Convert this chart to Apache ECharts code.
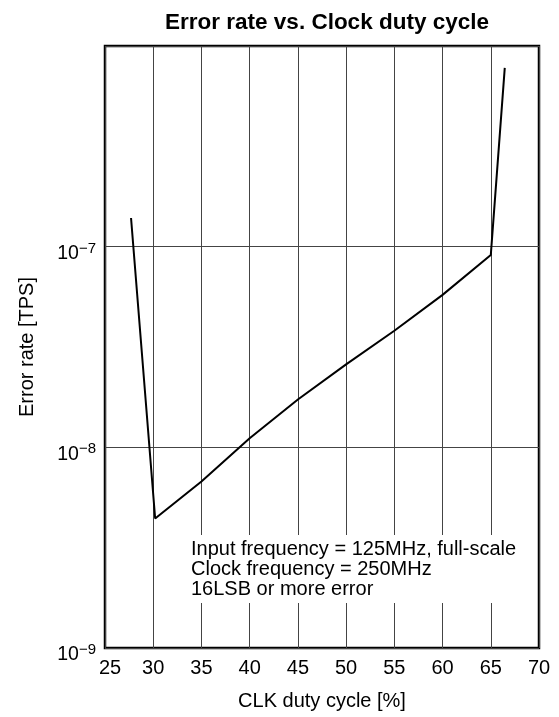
<!DOCTYPE html>
<html>
<head>
<meta charset="utf-8">
<script src="https://cdn.jsdelivr.net/npm/echarts@6/dist/echarts.min.js"></script>
<style>
html,body{margin:0;padding:0;background:#fff;}
#c{width:559px;height:717px;}
</style>
</head>
<body>
<div id="c"></div>
<script>
// Data
const dutyCycle = [27.7, 30.2, 35, 40, 45, 50, 55, 60, 65, 66.45];
const errorRate = [1.39e-7, 4.42e-9, 6.76e-9, 1.11e-8, 1.73e-8, 2.59e-8, 3.81e-8, 5.75e-8, 9.08e-8, 7.78e-7];
const xTicks = [25, 30, 35, 40, 45, 50, 55, 60, 65, 70];
const yTickExponents = [-9, -8, -7];
const noteLines = ['Input frequency = 125MHz, full-scale', 'Clock frequency = 250MHz', '16LSB or more error'];
const titleText = 'Error rate vs. Clock duty cycle';
const xName = 'CLK duty cycle [%]';
const yName = 'Error rate [TPS]';

const FONT = 'Liberation Sans, Arial, Helvetica, sans-serif';
const chart = echarts.init(document.getElementById('c'), null, {renderer: 'canvas'});

const points = dutyCycle.map((x, i) => [x, errorRate[i]]);

chart.setOption({
  animation: false,
  backgroundColor: '#fff',
  title: {
    text: titleText,
    left: 322,
    textAlign: 'center',
    top: 6,
    textStyle: {fontFamily: FONT, fontSize: 22.5, fontWeight: 'bold', color: '#000'}
  },
  grid: {
    left: 105, right: 20, top: 46, bottom: 69,
    show: true, borderColor: '#000', borderWidth: 2.5, backgroundColor: 'transparent'
  },
  xAxis: {
    type: 'value',
    min: xTicks[0], max: xTicks[xTicks.length - 1], interval: 5,
    name: xName, nameLocation: 'middle', nameGap: 43,
    nameTextStyle: {fontFamily: FONT, fontSize: 20, color: '#000'},
    axisLine: {show: false},
    axisTick: {show: false},
    splitLine: {show: true, lineStyle: {color: '#444', width: 1}},
    axisLabel: {
      margin: 10, color: '#000', fontFamily: FONT, fontSize: 20,
      formatter: v => (xTicks.indexOf(v) === 0 ? '{f|' + v + '}' : String(v)),
      rich: {f: {fontFamily: FONT, fontSize: 20, color: '#000', padding: [0, 0, 0, 10]}}
    }
  },
  yAxis: {
    type: 'log', logBase: 10,
    min: 1e-9, max: 1e-6,
    name: yName, nameLocation: 'middle', nameGap: 68,
    nameTextStyle: {fontFamily: FONT, fontSize: 20, color: '#000'},
    axisLine: {show: false},
    axisTick: {show: false},
    splitLine: {show: true, lineStyle: {color: '#444', width: 1}},
    axisLabel: {
      margin: 9, color: '#000',
      formatter: v => {
        const e = Math.round(Math.log10(v));
        if (yTickExponents.indexOf(e) < 0) return '';
        return '{b|10}{s|\u2212' + (-e) + '}';
      },
      rich: {
        b: {fontFamily: FONT, fontSize: 19.5, lineHeight: 19, color: '#000', padding: [14, 0, 0, 0]},
        s: {fontFamily: FONT, fontSize: 15, lineHeight: 15, color: '#000', padding: [11, 0, 7, 0]}
      }
    }
  },
  graphic: [{
    type: 'text',
    left: 183, top: 535,
    z: 50,
    style: {
      text: noteLines.join('\n'),
      font: '20px ' + FONT,
      fill: '#000',
      lineHeight: 20,
      backgroundColor: '#fff',
      padding: [4, 20, 4, 8]
    }
  }],
  series: [{
    type: 'line',
    data: points,
    showSymbol: false,
    symbol: 'none',
    lineStyle: {color: '#000', width: 2},
    z: 10
  }]
});
</script>
</body>
</html>
